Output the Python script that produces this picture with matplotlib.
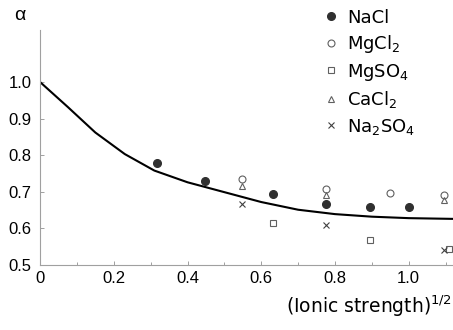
import matplotlib
matplotlib.use('Agg')
import matplotlib.pyplot as plt
from matplotlib.lines import Line2D

plt.rcParams['font.family'] = ['Liberation Sans Narrow', 'Liberation Sans', 'DejaVu Sans']
plt.rcParams['mathtext.default'] = 'regular'

# activity coefficient data, x = sqrt(ionic strength)
nacl_x = [0.316, 0.447, 0.632, 0.775, 0.894, 1.0]
nacl_y = [0.778, 0.730, 0.693, 0.666, 0.658, 0.658]

mgcl2_x = [0.548, 0.775, 0.949, 1.095]
mgcl2_y = [0.734, 0.707, 0.696, 0.690]

mgso4_x = [0.632, 0.894, 1.110]
mgso4_y = [0.616, 0.567, 0.545]

cacl2_x = [0.548, 0.775, 1.095]
cacl2_y = [0.715, 0.690, 0.677]

na2so4_x = [0.548, 0.775, 1.095]
na2so4_y = [0.666, 0.608, 0.542]

# fitted curve
curve_x = [0.0, 0.075, 0.15, 0.23, 0.31, 0.40, 0.50, 0.60, 0.70, 0.80, 0.90, 1.00, 1.12]
curve_y = [1.0, 0.932, 0.862, 0.803, 0.758, 0.726, 0.699, 0.672, 0.651, 0.639, 0.632, 0.628, 0.626]

x_ticks = [0, 0.2, 0.4, 0.6, 0.8, 1.0]
x_labels = ['0', '0.2', '0.4', '0.6', '0.8', '1.0']
y_ticks = [0.5, 0.6, 0.7, 0.8, 0.9, 1.0]
y_labels = ['0.5', '0.6', '0.7', '0.8', '0.9', '1.0']

fig = plt.figure(figsize=(4.53, 3.30), dpi=100)
ax = fig.add_axes([40 / 453, 65 / 330, 413 / 453, 235 / 330])

ax.plot(curve_x, curve_y, color='black', lw=1.5, zorder=2)

open_edge = '#606060'
ax.plot(nacl_x, nacl_y, 'o', ms=5.5, color='#303030', ls='none', zorder=3)
ax.plot(mgcl2_x, mgcl2_y, 'o', ms=5, mfc='none', mec=open_edge, mew=0.8, ls='none', zorder=3)
ax.plot(mgso4_x, mgso4_y, 's', ms=4.5, mfc='none', mec=open_edge, mew=0.8, ls='none', zorder=3)
ax.plot(cacl2_x, cacl2_y, '^', ms=4.5, mfc='none', mec=open_edge, mew=0.8, ls='none', zorder=3)
ax.plot(na2so4_x, na2so4_y, 'x', ms=4, color='#404040', mew=0.8, ls='none', zorder=3)

ax.set_xlim(0, 1.12)
ax.set_ylim(0.5, 1.142)

ax.set_xticks(x_ticks)
ax.set_xticklabels(x_labels)
ax.set_xticks([0.1, 0.3, 0.5, 0.7, 0.9, 1.1], minor=True)
ax.set_yticks(y_ticks)
ax.set_yticklabels(y_labels)

for s in ['top', 'right']:
    ax.spines[s].set_visible(False)
for s in ['left', 'bottom']:
    ax.spines[s].set_color('#a0a0a0')
    ax.spines[s].set_linewidth(0.8)

ax.tick_params(axis='both', which='both', direction='in', color='#a0a0a0',
               labelsize=12, width=0.7)
ax.tick_params(axis='both', which='major', length=3)
ax.tick_params(axis='x', which='minor', length=2)
ax.tick_params(axis='x', pad=4)
ax.tick_params(axis='y', pad=6)

fig.text(20 / 453, 1 - 16 / 330, r'$\alpha$', fontsize=14, ha='center', va='center')
fig.text(452 / 453, 1 - 306 / 330, r'(Ionic strength)$^{1/2}$', fontsize=13.5,
         family='DejaVu Sans', ha='right', va='center')

handles = [
    Line2D([], [], marker='o', ls='none', ms=5.5, color='#303030'),
    Line2D([], [], marker='o', ls='none', ms=5, mfc='none', mec=open_edge, mew=0.8),
    Line2D([], [], marker='s', ls='none', ms=4.5, mfc='none', mec=open_edge, mew=0.8),
    Line2D([], [], marker='^', ls='none', ms=4.5, mfc='none', mec=open_edge, mew=0.8),
    Line2D([], [], marker='x', ls='none', ms=4, color='#404040', mew=0.8),
]
labels = ['NaCl', r'MgCl$_2$', r'MgSO$_4$', r'CaCl$_2$', r'Na$_2$SO$_4$']
fig.legend(handles, labels, loc='upper left', bbox_to_anchor=(310 / 453, 1.012),
           frameon=False, prop={'family': 'DejaVu Sans', 'size': 13},
           handlelength=0.9, handletextpad=0.45, labelspacing=0.36, borderpad=0.2)

fig.savefig('out.png', dpi=100)
